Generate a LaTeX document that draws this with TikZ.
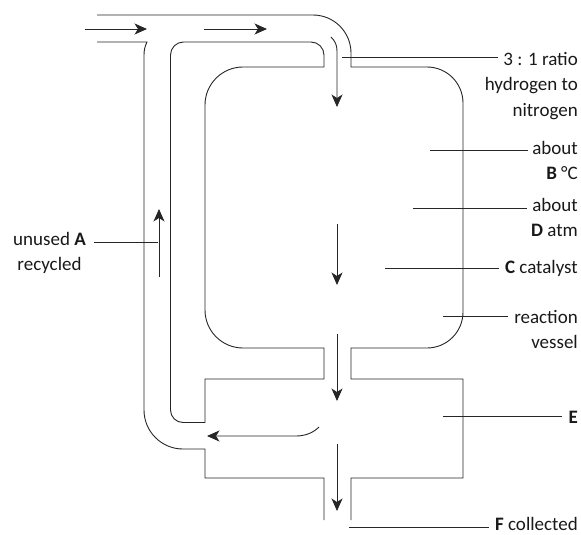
\documentclass[tikz,border=0pt]{standalone}
\usepackage{fontspec}
\setmainfont{Carlito}
\usetikzlibrary{arrows.meta}
\tikzset{
  wall/.style={line width=0.9pt, color=black!85},
  flow/.style={line width=0.9pt, color=black!85, -{Stealth[length=12.5pt,width=11pt,inset=3.5pt]}},
  leader/.style={line width=0.9pt, color=black!85},
  lbl/.style={font=\fontsize{19}{25.5}\selectfont, inner sep=0pt, align=right, text=black!90}
}
\begin{document}
\begin{tikzpicture}[x=1pt,y=-1pt]
 		\useasboundingbox (0,0) rectangle (581,535);
 		
 		% Outer wall of the pipe and the right side of the vessel
 		\draw[wall] (97,15) -- (313,15) arc[start angle=-90,end angle=0,radius=38] -- (351,67) -- (427,67)
 			arc[start angle=-90,end angle=0,radius=36] -- (463,312) arc[start angle=0,end angle=90,radius=36]
 			-- (351,348) -- (351,379) -- (463,379) -- (463,478) -- (351,478) -- (351,520);
 		
 		% Inner wall, left side of the vessel
 		\draw[wall] (324,67) -- (243,67) arc[start angle=-90,end angle=-180,radius=38] -- (205,310)
 			arc[start angle=180,end angle=90,radius=38] -- (324,348) -- (324,379) -- (205,379) -- (205,422.5)
 			-- (183,422.5) arc[start angle=90,end angle=180,radius=12.5] -- (170.5,55)
 			arc[start angle=-180,end angle=-90,radius=13] -- (311,42) arc[start angle=-90,end angle=0,radius=13] -- cycle;
 		
 		% Recycle pipe, outside
 		\draw[wall] (97,42) -- (147,42) .. controls (145,46) and (144,50) .. (144,55) -- (144,410)
 			arc[start angle=180,end angle=90,radius=39] -- (205,449) -- (205,478) -- (324,478) -- (324,520);
 		
 		% Gas flow
 		\draw[flow] (85,29) -- (147,29);
 		\draw[flow] (204,29) -- (267,29);
 		\draw[flow] (331,37) .. controls (335,41) and (337,45) .. (337,51) -- (337,107);
 		\draw[flow] (337,224) -- (337,285);
 		\draw[flow] (337,334) -- (337,401);
 		\draw[flow] (319,427) .. controls (313,433) and (305,436) .. (296,436) -- (207,436);
 		\draw[flow] (337,444) -- (337,511);
 		\draw[flow] (159,277) -- (159,209);
 		
 		% Labels on the right
 		\node[lbl, anchor=north east] (ratio) at (578,52) {3 : 1 ratio\\hydrogen to\\nitrogen};
 		\node[lbl, anchor=north east] (tempB) at (578,141) {about\\\textbf{B} °C};
 		\node[lbl, anchor=north east] (presD) at (578,198) {about\\\textbf{D} atm};
 		\node[lbl, anchor=base east] (catC) at (578,273) {\textbf{C} catalyst};
 		\node[lbl, anchor=north east] (vessel) at (578,310) {reaction\\vessel};
 		\node[lbl, anchor=base east] (condE) at (578,423) {\textbf{E}};
 		\node[lbl, anchor=base east] (liqF) at (578,530.5) {\textbf{F} collected};
 		
 		% Label on the left
 		\node[lbl, anchor=north, align=center] (unusedA) at (49.5,232) {unused \textbf{A}\\recycled};
 		
 		% Leader lines
 		\coordinate (ratioEnd) at (342,57);
 		\coordinate (tempEnd) at (430,150);
 		\coordinate (presEnd) at (413,208);
 		\coordinate (catEnd) at (385,268);
 		\coordinate (vesselEnd) at (443,316);
 		\coordinate (condEnd) at (443,416);
 		\coordinate (liqEnd) at (349,527);
 		\coordinate (unusedEnd) at (158,242);
 		\draw[leader] (ratioEnd) -- (498,57);
 		\draw[leader] (tempEnd) -- (528,150);
 		\draw[leader] (presEnd) -- (527,208);
 		\draw[leader] (catEnd) -- (499,268);
 		\draw[leader] (vesselEnd) -- (508,316);
 		\draw[leader] (condEnd) -- (562,416);
 		\draw[leader] (liqEnd) -- (489,527);
 		\draw[leader] (unusedEnd) -- (94,242);
 	\end{tikzpicture}
\end{document}
